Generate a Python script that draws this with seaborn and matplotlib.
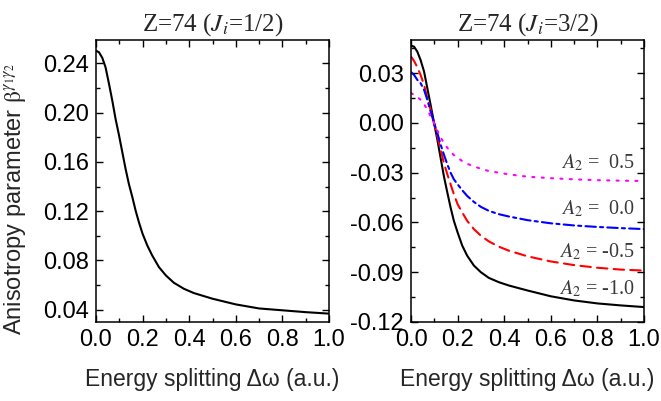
import numpy as np
import pandas as pd
import matplotlib
matplotlib.use("Agg")
import matplotlib.pyplot as plt
import seaborn as sns
from matplotlib.ticker import MultipleLocator, FormatStrFormatter

# ---------------- data ----------------
x_vals = [0.0, 0.013, 0.027, 0.041, 0.056, 0.07, 0.084, 0.099, 0.113, 0.127,
          0.141, 0.156, 0.17, 0.184, 0.2, 0.22, 0.241, 0.27, 0.3, 0.334,
          0.377, 0.42, 0.5, 0.6, 0.7, 0.8, 0.9, 1.0]

beta_j12 = [0.2503, 0.249, 0.2445, 0.2368, 0.2232, 0.2097, 0.1949, 0.1814, 0.1678, 0.1543,
            0.1422, 0.1314, 0.1205, 0.1111, 0.1016, 0.0922, 0.0841, 0.0746, 0.0678, 0.0619,
            0.0570, 0.0535, 0.0489, 0.0443, 0.041, 0.0395, 0.038, 0.0368]

beta_a2_m10 = [0.0466, 0.046, 0.043, 0.038, 0.031, 0.021, 0.011, 0.0, -0.010, -0.021,
               -0.032, -0.042, -0.051, -0.059, -0.066, -0.074, -0.080, -0.086, -0.090, -0.0934,
               -0.096, -0.098, -0.101, -0.1045, -0.107, -0.1088, -0.110, -0.111]
beta_a2_m05 = [0.040, 0.0374, 0.0336, 0.029, 0.023, 0.015, 0.008, 0.0, -0.008, -0.016,
               -0.024, -0.031, -0.037, -0.043, -0.049, -0.054, -0.059, -0.064, -0.068, -0.0714,
               -0.0746, -0.077, -0.0804, -0.0835, -0.0857, -0.0873, -0.0884, -0.089]
beta_a2_00 = [0.0306, 0.029, 0.026, 0.024, 0.020, 0.014, 0.007, 0.0, -0.006, -0.013,
              -0.019, -0.025, -0.030, -0.034, -0.037, -0.0406, -0.044, -0.0476, -0.0506, -0.053,
              -0.055, -0.0564, -0.0586, -0.0605, -0.0618, -0.0627, -0.0634, -0.064]
beta_a2_p05 = [0.018, 0.017, 0.0156, 0.014, 0.0114, 0.008, 0.004, 0.0, -0.0046, -0.0086,
               -0.012, -0.015, -0.0174, -0.0194, -0.021, -0.023, -0.0246, -0.0262, -0.0276, -0.029,
               -0.030, -0.031, -0.0324, -0.0333, -0.034, -0.0345, -0.0348, -0.035]

a2_labels = ["-1.0", "-0.5", "0.0", "0.5"]
a2_series = [beta_a2_m10, beta_a2_m05, beta_a2_00, beta_a2_p05]
a2_label_y = [-0.100, -0.078, -0.052, -0.024]

left_title = r"Z=74 ($J_i$=1/2)"
right_title = r"Z=74 ($J_i$=3/2)"
x_label = "Energy splitting \u0394\u03c9 (a.u.)"
y_label = r"Anisotropy parameter $\mathrm{\beta}^{\gamma_1\gamma_2}$"

# ---------------- style ----------------
sns.set_style("ticks")
plt.rcParams["font.family"] = ["Liberation Sans", "DejaVu Sans"]
plt.rcParams["mathtext.fontset"] = "stix"
plt.rcParams["axes.linewidth"] = 1.1
for ax_ in ("x", "y"):
    plt.rcParams[f"{ax_}tick.direction"] = "in"
    plt.rcParams[f"{ax_}tick.major.size"] = 5
    plt.rcParams[f"{ax_}tick.minor.size"] = 3
    plt.rcParams[f"{ax_}tick.major.width"] = 1.0
    plt.rcParams[f"{ax_}tick.minor.width"] = 1.0
    plt.rcParams[f"{ax_}tick.color"] = "black"

fig = plt.figure(figsize=(6.61, 4.01), dpi=100)
axL = fig.add_axes([96 / 661, 1 - 322 / 401, (329 - 96) / 661, (322 - 40) / 401])
axR = fig.add_axes([411 / 661, 1 - 322 / 401, (644 - 411) / 661, (322 - 40) / 401])

# left panel
dfL = pd.DataFrame({"x": x_vals, "beta": beta_j12})
sns.lineplot(data=dfL, x="x", y="beta", ax=axL, color="black", linewidth=1.5)

# right panel
rows = []
for lab, ser in zip(a2_labels, a2_series):
    for xv, yv in zip(x_vals, ser):
        rows.append({"x": xv, "beta": yv, "A2": lab})
dfR = pd.DataFrame(rows)
palette = {"-1.0": "black", "-0.5": "#ff0000", "0.0": "#0000ff", "0.5": "#ff00ff"}
dashes = {"-1.0": "", "-0.5": (5, 3), "0.0": (5, 2, 1.5, 2), "0.5": (1, 3.5)}
sns.lineplot(data=dfR, x="x", y="beta", hue="A2", style="A2", palette=palette,
             dashes=dashes, ax=axR, linewidth=1.5, legend=False)
for line in axR.get_lines():
    line.set_dash_capstyle("round")
    line.set_solid_joinstyle("round")
for line in axL.get_lines():
    line.set_solid_joinstyle("round")

for lab, yv in zip(a2_labels, a2_label_y):
    val = lab if lab.startswith("-") else " " + lab
    axR.text(0.96, yv, r"$A_2$ = " + val, ha="right", va="center",
             fontsize=14.5, color="#3a3a3a", family="Liberation Serif")

# axes formatting
for ax in (axL, axR):
    ax.set_xlim(0.0, 1.0)
    ax.xaxis.set_major_locator(MultipleLocator(0.2))
    ax.xaxis.set_minor_locator(MultipleLocator(0.1))
    ax.xaxis.set_major_formatter(FormatStrFormatter("%.1f"))
    ax.tick_params(which="both", top=True, right=True, labelsize=17, pad=5)
    ax.set_xlabel(x_label, fontsize=16.5, labelpad=12)
    ax.set_ylabel("")
    for sp in ax.spines.values():
        sp.set_visible(True)
        sp.set_color("black")

axL.set_ylim(0.030, 0.259)
axL.yaxis.set_major_locator(MultipleLocator(0.04))
axL.yaxis.set_minor_locator(MultipleLocator(0.02))
axL.yaxis.set_major_formatter(FormatStrFormatter("%.2f"))

axR.set_ylim(-0.12, 0.05)
axR.yaxis.set_major_locator(MultipleLocator(0.03))
axR.yaxis.set_minor_locator(MultipleLocator(0.015))
axR.yaxis.set_major_formatter(FormatStrFormatter("%.2f"))

axL.set_title(left_title, fontsize=18, family="Liberation Serif", pad=7)
axR.set_title(right_title, fontsize=18, family="Liberation Serif", pad=7)

fig.text(15 / 661, 1 - 199 / 401, y_label, rotation=90, ha="center", va="center", fontsize=17)

fig.savefig("out.png", dpi=100)
